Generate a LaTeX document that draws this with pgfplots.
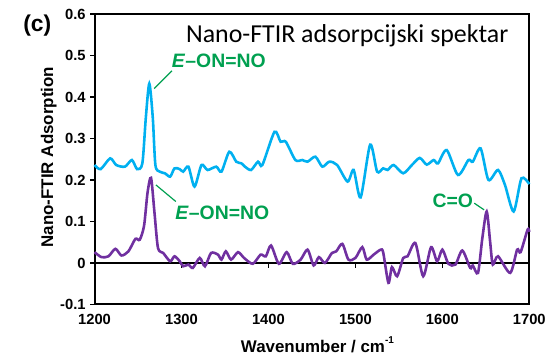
\documentclass[border=0pt]{standalone}
\usepackage{pgfplots}
\pgfplotsset{compat=1.18}
\usepackage{fontspec}
\setmainfont{Liberation Sans}
\newfontfamily\calibri{Carlito}
\definecolor{cblue}{RGB}{0,176,240}
\definecolor{cpurple}{RGB}{112,48,160}
\definecolor{cgreen}{RGB}{0,160,80}
\newcommand{\eonno}{\textit{E}\char"2013 ON=NO}
\begin{document}
\begin{tikzpicture}
\begin{axis}[
  scale only axis, width=437pt, height=292pt,
  xmin=1200, xmax=1700, ymin=-0.1, ymax=0.6,
  clip=false,
  axis line style={line width=2pt},
  xtick={1200,1300,1400,1500,1600,1700},
  ytick={-0.1,0,0.1,0.2,0.3,0.4,0.5,0.6},
  yticklabels={-0.1,0,0.1,0.2,0.3,0.4,0.5,0.6},
  xtick style={draw=none},
  ytick style={line width=1.4pt, black},
  tick align=outside, major tick length=4.5pt,
  ytick pos=left,
  xticklabel pos=lower,
  /pgf/number format/assume math mode=true,
  /pgf/number format/1000 sep={},
  ticklabel style={font=\bfseries\fontsize{14.8}{14.8}\selectfont},
  xticklabel style={yshift=-2pt},
  yticklabel style={xshift=-1pt},
  xlabel={Wavenumber / cm\raisebox{1ex}{\fontsize{10}{10}\selectfont -1}},
  ylabel={Nano-FTIR Adsorption},
  every axis x label/.style={at={(rel axis cs:0.5126,-0.139)},anchor=center,font=\bfseries\fontsize{17}{17}\selectfont},
  every axis y label/.style={at={(rel axis cs:-0.105,0.507)},anchor=center,rotate=90,font=\bfseries\fontsize{17}{17}\selectfont},
]
\path (rel axis cs:-0.2174,-0.1678) rectangle (rel axis cs:1.0389,1.048);
\draw[line width=1.6pt] (axis cs:1200,0) -- (axis cs:1700,0);
\draw[line width=1.4pt] (axis cs:1300,0) -- (axis cs:1300,-0.011);
\draw[line width=1.4pt] (axis cs:1400,0) -- (axis cs:1400,-0.011);
\draw[line width=1.4pt] (axis cs:1500,0) -- (axis cs:1500,-0.011);
\draw[line width=1.4pt] (axis cs:1600,0) -- (axis cs:1600,-0.011);
\addplot[cblue, line width=2.6pt, smooth, tension=0.45] coordinates {
(1200,0.236) (1207,0.226) (1218,0.252) (1225,0.236) (1235,0.232) (1243,0.248) (1249,0.226)
(1255,0.24) (1259,0.35) (1263,0.432) (1267,0.35) (1270,0.236)
(1275,0.22) (1281,0.216) (1287,0.208) (1292,0.228) (1298,0.226) (1302,0.22) (1308,0.232)
(1315,0.184) (1323,0.236) (1330,0.224) (1340,0.232) (1346,0.22) (1355,0.268) (1363,0.244)
(1369,0.24) (1373,0.232) (1380,0.224) (1388,0.244) (1393,0.236) (1407,0.316) (1414,0.292)
(1420,0.292) (1431,0.248) (1439,0.248) (1445,0.244) (1454,0.256) (1462,0.232) (1470,0.244)
(1479,0.236) (1491,0.196) (1498,0.224) (1506,0.158) (1517,0.285) (1525,0.22) (1532,0.228)
(1537,0.224) (1544,0.236) (1555,0.216) (1565,0.236) (1574,0.253) (1582,0.237) (1590,0.248)
(1595,0.24) (1605,0.272) (1618,0.212) (1630,0.248) (1635,0.244) (1644,0.276) (1653,0.2)
(1664,0.224) (1672,0.188) (1682,0.124) (1691,0.204) (1700,0.19)
};
\addplot[cpurple, line width=2.6pt, smooth, tension=0.45] coordinates {
(1200,0.026) (1208,0.014) (1216,0.016) (1224,0.034) (1231,0.018) (1239,0.028) (1247,0.058)
(1252,0.056) (1257,0.09) (1261,0.17) (1265,0.205) (1269,0.12) (1273,0.036) (1279,0.024)
(1287,0.004) (1292,0.016) (1298,0.004) (1302,-0.008) (1308,-0.004) (1313,-0.012) (1321,0.012)
(1327,-0.008) (1334,0.024) (1342,0.02) (1346,0.008) (1351,0.028) (1357,0.008) (1365,0.026)
(1372,0.012) (1382,-0.002) (1391,0.02) (1397,0.016) (1403,0.042) (1412,-0.002) (1421,0.026)
(1428,-0.002) (1437,0.008) (1445,0.032) (1452,-0.006) (1458,0.014) (1465,0.0) (1473,0.024)
(1478,0.028) (1485,0.046) (1492,0.008) (1500,0.012) (1508,0.038) (1513,0.008) (1521,0.02)
(1529,0.032) (1532,0.025) (1538,-0.048) (1542,-0.01) (1548,-0.032) (1555,0.012) (1560,0.016)
(1569,0.048) (1578,-0.032) (1587,0.038) (1594,0.004) (1600,0.032) (1607,-0.002) (1615,-0.004)
(1623,0.03) (1632,-0.012) (1635,-0.006) (1641,-0.024) (1646,0.06) (1651,0.124) (1655,0.05)
(1658,-0.004) (1664,0.016) (1678,-0.024) (1686,0.032) (1690,0.026) (1698,0.08) (1700,0.075)
};
\node[font=\calibri\fontsize{26}{26}\selectfont] at (axis cs:1490.6,0.547) {Nano-FTIR adsorpcijski spektar};
\node[font=\bfseries\fontsize{23}{23}\selectfont] at (axis cs:1134.2,0.572) {(c)};
\node[cgreen, font=\bfseries\fontsize{19.5}{19.5}\selectfont] at (axis cs:1343,0.487) {\eonno};
\draw[cgreen, line width=1.2pt] (axis cs:1268.6,0.42) -- (axis cs:1289,0.463);
\node[cgreen, font=\bfseries\fontsize{19.5}{19.5}\selectfont] at (axis cs:1347,0.12) {\eonno};
\draw[cgreen, line width=1.2pt] (axis cs:1270.6,0.188) -- (axis cs:1293.5,0.148);
\node[cgreen, font=\bfseries\fontsize{19.5}{19.5}\selectfont] at (axis cs:1612,0.149) {C=O};
\draw[cgreen, line width=1.2pt] (axis cs:1636.7,0.144) -- (axis cs:1648,0.128);
\end{axis}
\end{tikzpicture}
\end{document}
